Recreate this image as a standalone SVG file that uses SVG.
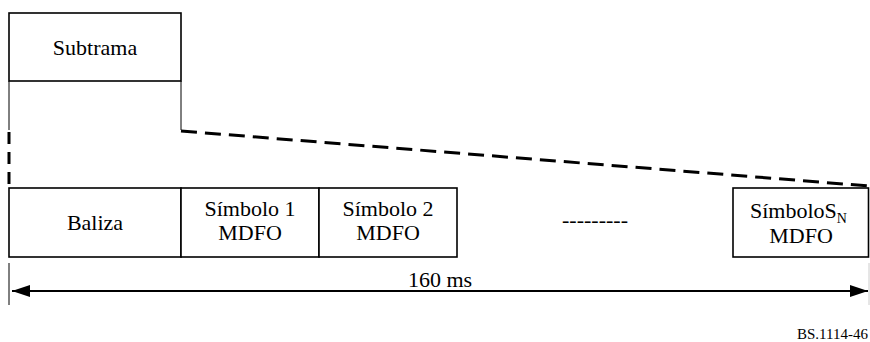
<svg xmlns="http://www.w3.org/2000/svg" width="870" height="342" viewBox="0 0 870 342">
<style>
  .box { fill: #fff; stroke: #000; stroke-width: 1.6; }
  .thin { stroke: #000; stroke-width: 1; fill: none; }
  .dash { stroke: #000; stroke-width: 3; fill: none; stroke-dasharray: 16 8; }
  .t { font-family: 'Liberation Serif', serif; font-size: 22px; fill: #000; }
  .c { text-anchor: middle; }
</style>
<defs>
  <marker id="ah" viewBox="0 0 18 12" refX="18" refY="6" markerWidth="18" markerHeight="12" markerUnits="userSpaceOnUse" orient="auto-start-reverse">
    <path d="M0,0 L18,6 L0,12 Z" fill="#000"/>
  </marker>
</defs>
<rect width="870" height="342" fill="#fff"/>
<g id="connectors">
  <line class="thin" x1="9" y1="81" x2="9" y2="130"/>
  <line class="thin" x1="181" y1="81" x2="181" y2="130"/>
  <line class="dash" x1="9" y1="132" x2="9" y2="188" style="stroke-dasharray:12 8"/>
  <line class="dash" x1="181" y1="131" x2="869" y2="186"/>
  <line class="thin" x1="9" y1="263" x2="9" y2="305"/>
  <line class="thin" x1="869" y1="263" x2="869" y2="305" style="stroke:#ccc"/>
  <line x1="12" y1="291" x2="868" y2="291" stroke="#000" stroke-width="2" marker-start="url(#ah)" marker-end="url(#ah)"/>
</g>
<g id="subtrama">
  <rect class="box" x="9" y="13" width="172" height="68"/>
  <text class="t c" x="95" y="55">Subtrama</text>
</g>
<g id="baliza">
  <rect class="box" x="9" y="188" width="172" height="69"/>
  <text class="t c" x="95" y="230">Baliza</text>
</g>
<g id="simbolo1">
  <rect class="box" x="181" y="188" width="138" height="69"/>
  <text class="t c" x="250" y="216">Símbolo 1</text>
  <text class="t c" x="250" y="240">MDFO</text>
</g>
<g id="simbolo2">
  <rect class="box" x="319" y="188" width="138" height="69"/>
  <text class="t c" x="388" y="216">Símbolo 2</text>
  <text class="t c" x="388" y="240">MDFO</text>
</g>
<g id="ellipsis">
  <text class="t c" x="595" y="227">---------</text>
</g>
<g id="simboloN">
  <rect class="box" x="733" y="188" width="135.5" height="69"/>
  <text class="t" x="750" y="218">SímboloS<tspan font-size="14" dy="5">N</tspan></text>
  <text class="t c" x="801" y="243">MDFO</text>
</g>
<g id="label-160">
  <text class="t c" x="440" y="287">160 ms</text>
</g>
<text class="t" x="868" y="339" style="text-anchor:end;font-size:15px">BS.1114-46</text>
</svg>
